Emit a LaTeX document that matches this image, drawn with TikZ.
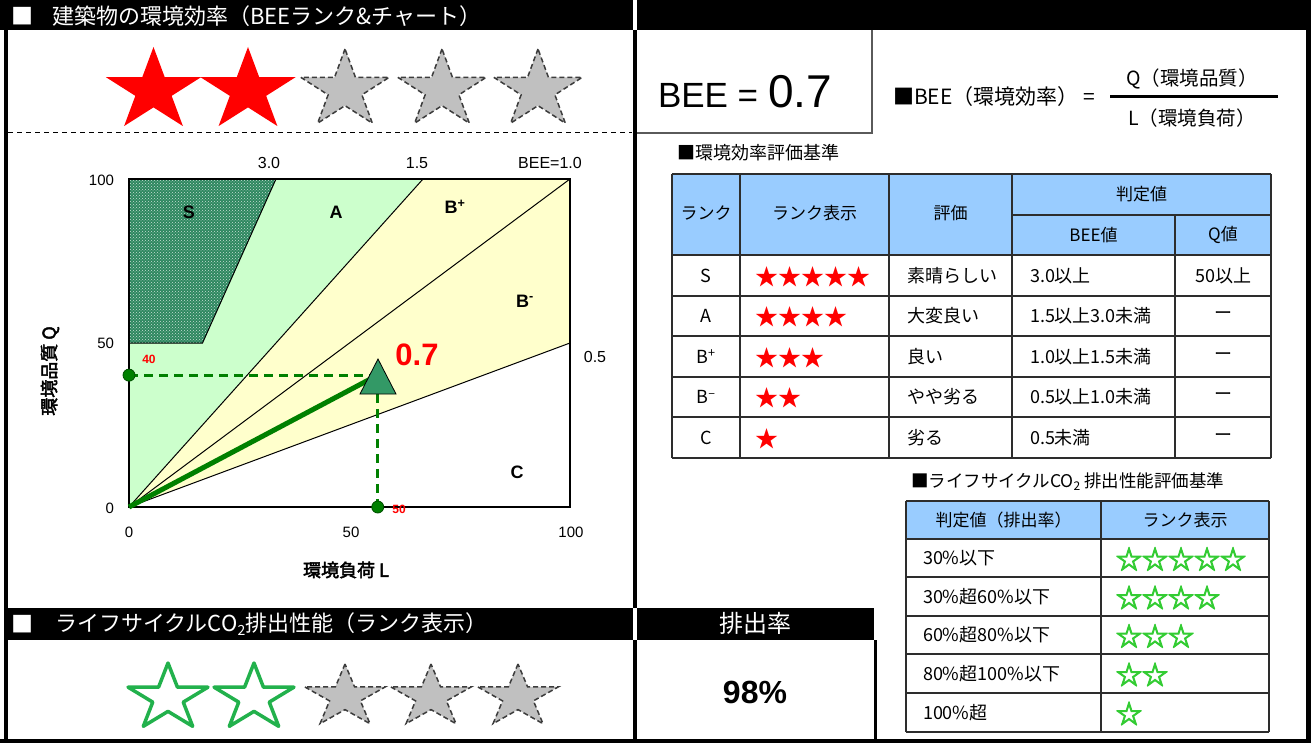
\documentclass[tikz,border=0pt]{standalone}
\usepackage{fontspec}
\setmainfont{Liberation Sans}
\newfontfamily\jp{Noto Sans CJK JP}
\newfontfamily\jpb[FakeBold=2.5]{Noto Sans CJK JP}
\newfontfamily\jpbb[FakeBold=4]{Noto Sans CJK JP}
\usetikzlibrary{patterns}
\definecolor{hdrblue}{RGB}{153,204,255}
\definecolor{lgreen}{RGB}{204,255,204}
\definecolor{lyellow}{RGB}{255,255,204}
\definecolor{sgreen}{RGB}{45,135,95}
\definecolor{tgreen}{RGB}{51,153,102}
\definecolor{dgreen}{RGB}{0,128,0}
\definecolor{stargreen}{RGB}{51,204,51}
\definecolor{olgreen}{RGB}{34,177,76}
\definecolor{sgray}{RGB}{192,192,192}
\definecolor{sdash}{RGB}{60,60,60}
\definecolor{tgrid}{RGB}{45,45,45}
\newcommand\fs[1]{\fontsize{#1}{#1}\selectfont}
\newcommand\mystar[5]{%
  \begin{scope}[shift={(#2,#3)}, x=#4pt, y=#5pt]
    \path[#1] (90:1) -- (126:0.382) -- (162:1) -- (198:0.382) -- (234:1) -- (270:0.382) -- (306:1) -- (342:0.382) -- (18:1) -- (54:0.382) -- cycle;
  \end{scope}}
\tikzset{
  every node/.style={inner sep=0pt, outer sep=0pt},
  hdr/.style={text=white, font=\jp\fs{22}},
  tcell/.style={font=\jp\fs{18}},
  thead/.style={font=\jp\fs{17}},
  ax/.style={font=\fs{15}},
  topax/.style={font=\fs{16}},
  zone/.style={font=\bfseries\fs{18}},
  tline/.style={draw=tgrid, line width=1.3pt},
  redstar/.style={fill=red, draw=none},
  graystar/.style={fill=sgray, draw=sdash, line width=1.5pt, dash pattern=on 5pt off 3pt},
  greenstar/.style={fill=white, draw=olgreen, line width=3.5pt, line join=round},
  guide/.style={draw=dgreen, line width=3pt, dash pattern=on 9pt off 6pt},
  dotpt/.style={fill=dgreen, draw={rgb,255:red,0;green,80;blue,0}, line width=0.8pt},
  thin/.style={draw=black, line width=1pt}
}
\begin{document}
\begin{tikzpicture}[x=1pt, y=-1pt]
\useasboundingbox (0,0) rectangle (1311,743);
\fill[white] (0,0) rectangle (1311,743);

% ---------- header bars ----------
\fill[black] (0,0) rectangle (633,30);
\fill[black] (637,0) rectangle (1311,30);
\node[hdr, anchor=west] (hsq) at (11,16) {■};
\node[hdr, anchor=west] (htitle) at (52,16) {建築物の環境効率（BEEランク\&チャート）};

% ---------- frame ----------
\draw[line width=4pt] (6,0) -- (6,743);
\draw[line width=5pt] (1308.5,0) -- (1308.5,743);
\draw[line width=4pt] (0,741) -- (1311,741);
\draw[line width=4pt] (635,30) -- (635,608);
\draw[line width=4pt] (635,640) -- (635,743);
\draw[dash pattern=on 5pt off 4pt, line width=1pt] (8,133) -- (632,133);

% ---------- top stars ----------
\mystar{redstar}{153.5}{90.7}{50}{43.7}
\mystar{redstar}{248}{90.7}{50}{43.7}
\mystar{graystar}{345}{90}{46.5}{41}
\mystar{graystar}{442}{90}{46.5}{41}
\mystar{graystar}{538}{90}{46.5}{41}

% ---------- chart ----------
\begin{scope}[shift={(129,507)}, x=4.41pt, y=3.28pt]
  \fill[lgreen] (0,0) -- (0,100) -- (66.67,100) -- cycle;
  \fill[lyellow] (0,0) -- (66.67,100) -- (100,100) -- (100,50) -- cycle;
  \fill[sgreen] (0,50) -- (0,100) -- (33.33,100) -- (16.67,50) -- cycle;
  \fill[pattern=crosshatch dots, pattern color=white!75!sgreen] (0,50) -- (0,100) -- (33.33,100) -- (16.67,50) -- cycle;
  \draw[thin] (0,50) -- (16.67,50) -- (33.33,100);
  \draw[thin] (0,0) -- (66.67,100);
  \draw[thin] (0,0) -- (100,100);
  \draw[thin] (0,0) -- (100,50);
  \draw[line width=2.5pt] (0,0) rectangle (100,100);
  \coordinate (O) at (0,0);
  \coordinate (P) at (56.4,40.2);
  \coordinate (Py) at (0,40.2);
  \coordinate (Px) at (56.4,0);
  \coordinate (Pb) at (56.4,34.5);
  \draw[dgreen, line width=5pt] (O) -- (P);
  \draw[guide] (Py) -- (P);
  \draw[guide] (Pb) -- (Px);
  \fill[dotpt] (Py) circle (6pt);
  \fill[dotpt] (Px) circle (6pt);
\end{scope}
\filldraw[fill=tgreen, draw=black, line width=0.8pt] (360,394) -- (378,359) -- (396,394) -- cycle;

\node[topax] (l30) at (269,163) {3.0};
\node[topax] (l15) at (417,163) {1.5};
\node[topax] (l10) at (550,163) {BEE=1.0};
\node[topax] (l05) at (595,357) {0.5};
\node[ax, anchor=east] (y100) at (114,180) {100};
\node[ax, anchor=east] (y50) at (114,343) {50};
\node[ax, anchor=east] (y0) at (114,508) {0};
\node[ax] (x0) at (129,532) {0};
\node[ax] (x50) at (351,532) {50};
\node[ax] (x100) at (571,532) {100};
\node[font=\jpb\fs{18}] (xlab) at (346,570) {環境負荷 L};
\node[font=\jpb\fs{18}, rotate=90] (ylab) at (50,371) {環境品質 Q};
\node[zone] (zS) at (189,212) {S};
\node[zone] (zA) at (336,212) {A};
\node[zone] (zBp) at (455,207) {B\textsuperscript{+}};
\node[zone] (zBm) at (525,301) {B\textsuperscript{-}};
\node[zone] (zC) at (517,472) {C};
\node[text=red, font=\bfseries\fs{31}] (val) at (417,355) {0.7};
\node[text=red, font=\bfseries\fs{12}] (q40) at (149,359) {40};
\node[text=red, font=\bfseries\fs{12}] (l50) at (399,509) {50};

% ---------- BEE box & formula ----------
\draw[draw={rgb,255:red,90;green,90;blue,90}, line width=1.2pt] (637,133) -- (872,133) -- (872,30);
\node[anchor=base west] (bee) at (658,108) {\fs{35}BEE =\hspace{10pt}\fs{46}0.7};
\node[anchor=west, font=\jp\fs{21}] (beedef) at (893,97) {■BEE（環境効率） =};
\node[font=\jp\fs{19.5}] (numq) at (1192,79) {Q（環境品質）};
\draw[line width=3pt] (1110,97) -- (1278,97);
\node[font=\jp\fs{19.5}] (denl) at (1192,118) {L（環境負荷）};
\node[anchor=west, font=\jp\fs{18}] (t1title) at (677,153) {■環境効率評価基準};

% ---------- table 1 ----------
\fill[hdrblue] (672,174) rectangle (1271,255);
\foreach \y in {174,255,296,336,377,417,458} \draw[tline] (672,\y) -- (1271,\y);
\draw[tline] (1012,215) -- (1271,215);
\foreach \x in {672,740,889,1012,1271} \draw[tline] (\x,174) -- (\x,458);
\draw[tline] (1175,215) -- (1175,458);
\node[thead] (h1) at (706,213) {ランク};
\node[thead] (h2) at (814.5,213) {ランク表示};
\node[thead] (h3) at (950.5,213) {評価};
\node[thead] (h4) at (1141.5,194.5) {判定値};
\node[thead] (h5) at (1093.5,235) {BEE値};
\node[thead] (h6) at (1223,235) {Q値};
\foreach \i/\y/\ra/\rb/\rc/\rd/\re in {
  1/275.5/S/★★★★★/素晴らしい/3.0以上/50以上,
  2/316/A/★★★★/大変良い/1.5以上3.0未満/ー,
  3/356.5/B\textsuperscript{+}/★★★/良い/1.0以上1.5未満/ー,
  4/397/B\textsuperscript{–}/★★/やや劣る/0.5以上1.0未満/ー,
  5/437.5/C/★/劣る/0.5未満/ー}{
  \node[tcell] (ra\i) at (706,\y) {\ra};
  \node[font=\jp\fs{23}, text=red, anchor=west] (rb\i) at (755,\y+1) {\rb};
  \node[tcell, anchor=west] (rc\i) at (907,\y) {\rc};
  \node[tcell, anchor=west] (rd\i) at (1030,\y) {\rd};
  \node[tcell] (re\i) at (1223,\y) {\re};
}

% ---------- table 2 ----------
\node[anchor=west, font=\jp\fs{17.5}] (t2title) at (911,482) {■ライフサイクルCO\raisebox{-0.3ex}{\fs{12}2} 排出性能評価基準};
\fill[hdrblue] (906,501) rectangle (1269,539);
\foreach \y in {501,539,577,616,654,693,732} \draw[tline] (906,\y) -- (1269,\y);
\foreach \x in {906,1101,1269} \draw[tline] (\x,501) -- (\x,732);
\node[thead] (g1) at (1003.5,520) {判定値（排出率）};
\node[thead] (g2) at (1185,520) {ランク表示};
\foreach \i/\y/\ga/\gb in {
  1/558/30\%以下/☆☆☆☆☆,
  2/596.5/30\%超60\%以下/☆☆☆☆,
  3/635/60\%超80\%以下/☆☆☆,
  4/673.5/80\%超100\%以下/☆☆,
  5/712.5/100\%超/☆}{
  \node[tcell, anchor=west] (ga\i) at (923,\y) {\ga};
  \node[font=\jpbb\fs{26}, text=stargreen, anchor=west] (gb\i) at (1116,\y+1) {\gb};
}

% ---------- bottom section ----------
\fill[black] (4,608) rectangle (633,640);
\fill[black] (637,608) rectangle (874,640);
\draw[line width=3pt] (875.5,640) -- (875.5,743);
\node[hdr, anchor=west] (bsq) at (11,624) {■};
\node[hdr, anchor=west] (btitle) at (55,624) {ライフサイクルCO\raisebox{-0.35ex}{\fs{14}2}排出性能（ランク表示）};
\node[hdr, font=\jp\fs{24}] (rate) at (755,623) {排出率};
\node[font=\bfseries\fs{32}] (pct) at (755,692) {98\%};
\mystar{greenstar}{168}{698}{42}{35}
\mystar{greenstar}{254}{698}{42}{35}
\mystar{graystar}{345}{697}{42.5}{33}
\mystar{graystar}{431}{697}{42.5}{33}
\mystar{graystar}{518}{697}{42.5}{33}
\end{tikzpicture}
\end{document}
